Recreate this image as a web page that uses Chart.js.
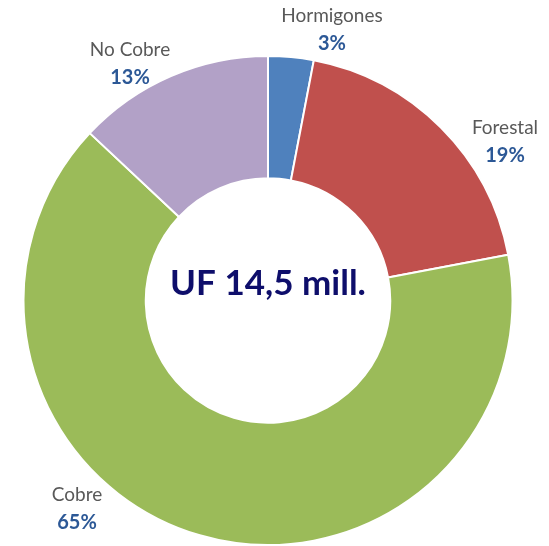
<!DOCTYPE html>
<html>
<head>
<meta charset="utf-8">
<script src="https://cdn.jsdelivr.net/npm/chart.js@4/dist/chart.umd.min.js"></script>
<style>
  html, body { margin: 0; padding: 0; background: #fff; }
  #wrap { width: 549px; height: 546px; }
</style>
</head>
<body>
<div id="wrap"><canvas id="donutChart"></canvas></div>
<script>
// Data
const categories = ['Hormigones', 'Forestal', 'Cobre', 'No Cobre'];
const shares = [3, 19, 65, 13];
const centerLabel = 'UF 14,5 mill.';

const sliceColors = ['#4F81BD', '#C0504D', '#9BBB59', '#B2A1C7'];
// label anchor offsets from the doughnut centre (Excel placed these by hand)
const labelOffsets = [[64, -285], [237, -173], [-191, 194], [-138, -251]];

const labelsPlugin = {
    id: 'outsideLabels',
    afterDraw(chart) {
        const ctx = chart.ctx;
        const arc = chart.getDatasetMeta(0).data[0];
        const cx = arc.x, cy = arc.y;
        ctx.save();
        ctx.textAlign = 'center';
        ctx.textBaseline = 'middle';
        categories.forEach(function(name, i) {
            const x = cx + labelOffsets[i][0];
            const y = cy + labelOffsets[i][1];
            ctx.font = '19px Lato';
            ctx.fillStyle = '#595959';
            ctx.fillText(name, x, y);
            ctx.font = 'bold 20px Lato';
            ctx.fillStyle = '#2C5896';
            ctx.fillText(shares[i] + '%', x, y + 28);
        });
        // centre text
        ctx.font = 'bold 35px Lato';
        ctx.fillStyle = '#0E0E6B';
        ctx.fillText(centerLabel, cx, cy - 17);
        ctx.restore();
    }
};

const donutCtx = document.getElementById('donutChart').getContext('2d');
const donutChart = new Chart(donutCtx, {
    type: 'doughnut',
    data: {
        labels: categories,
        datasets: [{
            data: shares,
            backgroundColor: sliceColors,
            borderColor: '#ffffff',
            borderWidth: 2
        }]
    },
    options: {
        responsive: true,
        maintainAspectRatio: false,
        animation: false,
        cutout: '50%',
        layout: {
            padding: { top: 55, left: 22, right: 35, bottom: -1 }
        },
        plugins: {
            legend: { display: false },
            tooltip: { enabled: false }
        }
    },
    plugins: [labelsPlugin]
});
</script>
</body>
</html>
